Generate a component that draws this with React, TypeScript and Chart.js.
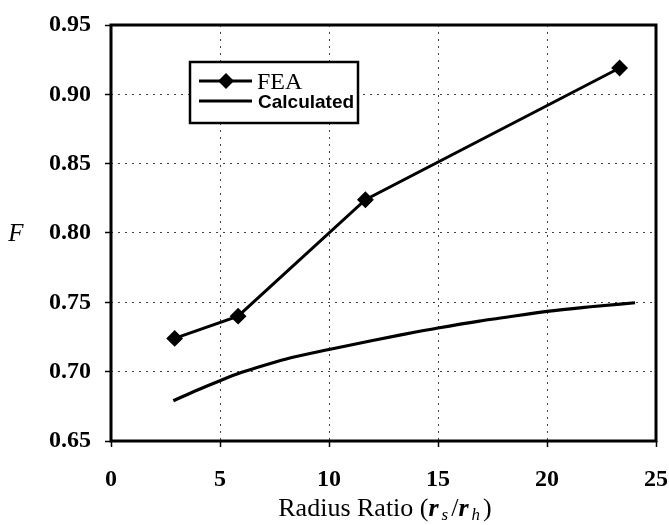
import React, { useEffect, useRef } from "react";
import { Chart, registerables } from "chart.js";

Chart.register(...registerables);

// ---- data ----
const feaLabel = "FEA";
const calcLabel = "Calculated";
const feaX = [2.92, 5.83, 11.67, 23.33];
const feaY = [0.724, 0.74, 0.824, 0.919];
const calcX = [2.86, 4, 5, 6, 7, 8, 10, 12, 13.3, 15, 16.9, 17.8, 20, 22, 24.04];
const calcY = [0.679, 0.687, 0.6935, 0.6995, 0.7045, 0.709, 0.716, 0.7225, 0.7265, 0.7315, 0.7365, 0.7385, 0.7435, 0.7468, 0.7497];
const xMin = 0;
const xMax = 25;
const xStep = 5;
const yMin = 0.65;
const yMax = 0.95;
const yStep = 0.05;
const yTitle = "F";
const xTitleParts = [
  { t: "Radius Ratio (", style: "normal", sub: false },
  { t: "r", style: "italic bold", sub: false },
  { t: "s", style: "italic", sub: true },
  { t: "/", style: "normal", sub: false },
  { t: "r", style: "italic bold", sub: false },
  { t: "h", style: "italic", sub: true },
  { t: ")", style: "normal", sub: false },
];

const SERIF = "'Liberation Serif', 'Times New Roman', serif";
const SANS = "'Liberation Sans', Arial, sans-serif";

const decorPlugin = {
  id: "decor",
  afterDraw(chart: any) {
    const { ctx, chartArea: a } = chart;
    ctx.save();
    // plot frame
    ctx.strokeStyle = "#000";
    ctx.lineWidth = 3;
    ctx.setLineDash([]);
    ctx.strokeRect(a.left, a.top, a.right - a.left, a.bottom - a.top);

    // y title (upright italic F)
    ctx.fillStyle = "#000";
    ctx.font = `italic 25px ${SERIF}`;
    ctx.textAlign = "center";
    ctx.textBaseline = "alphabetic";
    ctx.fillText(yTitle, 16, a.top + (a.bottom - a.top) / 2 + 8);

    // x title with subscripts
    const big = 26;
    const small = 17;
    const gap = 3;
    const fontFor = (p: any) => `${p.style} ${p.sub ? small : big}px ${SERIF}`;
    let total = 0;
    for (const p of xTitleParts) {
      ctx.font = fontFor(p);
      total += ctx.measureText(p.t).width + (p.sub ? gap * 2 : 0);
    }
    const cx = 385;
    let x = cx - total / 2;
    const base = 516;
    ctx.textAlign = "left";
    for (const p of xTitleParts) {
      ctx.font = fontFor(p);
      if (p.sub) x += gap;
      ctx.fillText(p.t, x, p.sub ? base + 4 : base);
      x += ctx.measureText(p.t).width + (p.sub ? gap : 0);
    }

    // legend box
    const lx = a.left + 79;
    const ly = a.top + 37;
    const lw = 168;
    const lh = 61;
    ctx.fillStyle = "#fff";
    ctx.fillRect(lx, ly, lw, lh);
    ctx.strokeStyle = "#000";
    ctx.lineWidth = 2.5;
    ctx.strokeRect(lx, ly, lw, lh);

    // FEA entry
    const y1 = ly + 19;
    ctx.lineWidth = 3;
    ctx.beginPath();
    ctx.moveTo(lx + 9, y1);
    ctx.lineTo(lx + 62, y1);
    ctx.stroke();
    ctx.fillStyle = "#000";
    ctx.beginPath();
    const dx = lx + 36;
    ctx.moveTo(dx - 8, y1);
    ctx.lineTo(dx, y1 - 8);
    ctx.lineTo(dx + 8, y1);
    ctx.lineTo(dx, y1 + 8);
    ctx.closePath();
    ctx.fill();
    ctx.font = `24px ${SERIF}`;
    ctx.textBaseline = "alphabetic";
    ctx.fillText(feaLabel, lx + 67, y1 + 8);

    // Calculated entry
    const y2 = ly + 39;
    ctx.beginPath();
    ctx.moveTo(lx + 9, y2);
    ctx.lineTo(lx + 62, y2);
    ctx.stroke();
    ctx.font = `bold 19px ${SANS}`;
    ctx.fillText(calcLabel, lx + 68, y2 + 7);
    ctx.restore();
  },
};

export default function App() {
  const ref = useRef<HTMLCanvasElement>(null);
  useEffect(() => {
    if (!ref.current) return;
    const chart = new Chart(ref.current, {
      type: "line",
      data: {
        datasets: [
          {
            label: feaLabel,
            data: feaX.map((x, i) => ({ x, y: feaY[i] })),
            borderColor: "#000",
            backgroundColor: "#000",
            borderWidth: 3,
            pointStyle: "rectRot",
            pointRadius: 7,
            pointBorderWidth: 2,
            tension: 0,
          },
          {
            label: calcLabel,
            data: calcX.map((x, i) => ({ x, y: calcY[i] })),
            borderColor: "#000",
            borderWidth: 3.2,
            pointRadius: 0,
            cubicInterpolationMode: "monotone",
          },
        ],
      },
      options: {
        responsive: false,
        animation: false,
        layout: { padding: { top: 25, right: 13, left: 0, bottom: 0 } },
        plugins: {
          legend: { display: false },
          tooltip: { enabled: false },
          title: { display: false },
        },
        scales: {
          x: {
            type: "linear",
            min: xMin,
            max: xMax,
            afterFit: (s: any) => {
              s.height = 84;
              s.paddingLeft = 0;
              s.paddingRight = 0;
            },
            ticks: {
              stepSize: xStep,
              color: "#000",
              padding: 18,
              maxRotation: 0,
              font: { family: SERIF, size: 24, weight: "bold" },
            },
            grid: {
              color: "#444",
              lineWidth: 1,
              tickLength: 6,
              tickColor: "#000",
              tickWidth: 1.5,
            },
            border: { display: false, dash: [2, 5] },
          },
          y: {
            type: "linear",
            min: yMin,
            max: yMax,
            afterFit: (s: any) => {
              s.width = 111;
              s.paddingTop = 0;
              s.paddingBottom = 0;
            },
            ticks: {
              stepSize: yStep,
              color: "#000",
              padding: 14,
              font: { family: SERIF, size: 24, weight: "bold" },
              callback: (v: any) => Number(v).toFixed(2),
            },
            grid: {
              color: "#444",
              lineWidth: 1,
              tickLength: 6,
              tickColor: "#000",
              tickWidth: 1.5,
            },
            border: { display: false, dash: [2, 5] },
          },
        },
      },
      plugins: [decorPlugin],
    } as any);
    return () => chart.destroy();
  }, []);
  return (
    <div
      style={{
        position: "fixed",
        left: 0,
        top: 0,
        width: 669,
        height: 525,
        background: "#fff",
      }}
    >
      <canvas ref={ref} width={669} height={525} style={{ display: "block" }} />
    </div>
  );
}
